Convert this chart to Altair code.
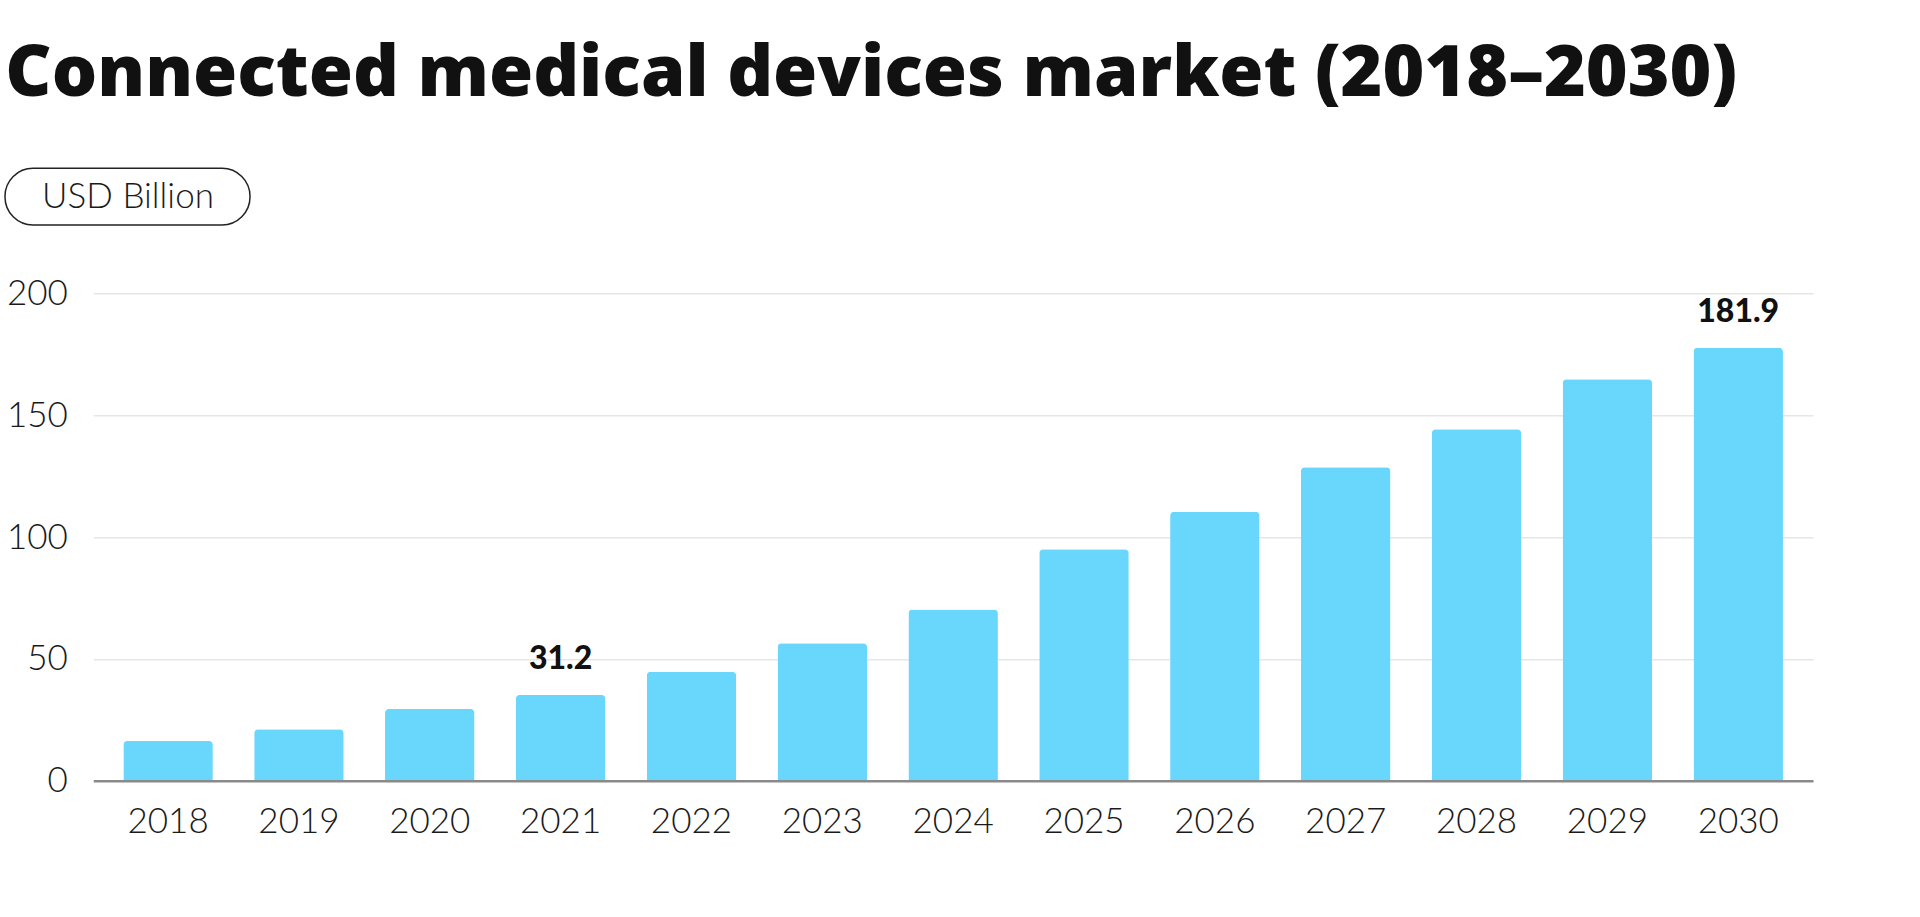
import altair as alt
import pandas as pd

years = ["2018", "2019", "2020", "2021", "2022", "2023", "2024",
         "2025", "2026", "2027", "2028", "2029", "2030"]
values = [16.3, 21.1, 29.4, 35.2, 44.7, 56.4, 70.3, 95.0, 110.4, 128.6, 144.2, 164.7, 177.7]
labels = ["", "", "", "31.2", "", "", "", "", "", "", "", "", "181.9"]
y_ticks = [0, 50, 100, 150, 200]

title_text = "Connected medical devices market (2018\u20132030)"
unit_text = "USD Billion"

df = pd.DataFrame({"year": years, "value": values, "label": labels})

W = 1719.7
H = 487.4
LEFT = 93.3
TOP = 293.3

FONT = "Lato"
BAR_COLOR = "#69D6FC"

x_enc = alt.X(
    "year:N",
    sort=years,
    scale=alt.Scale(paddingInner=0.316, paddingOuter=0.2295),
    axis=alt.Axis(
        title=None,
        labelAngle=0,
        labelFont=FONT,
        labelFontWeight=300,
        labelFontSize=35,
        labelColor="#1a1a1a",
        labelPadding=24,
        ticks=False,
        domainColor="#8a8a8a",
        domainWidth=2.5,
        grid=False,
        zindex=1,
    ),
)

y_enc = alt.Y(
    "value:Q",
    scale=alt.Scale(domain=[0, 200], nice=False),
    axis=alt.Axis(
        values=y_ticks,
        title=unit_text,
        titleAngle=0,
        titleX=34.2,
        titleY=-96.6,
        titleAlign="center",
        titleBaseline="middle",
        titleFont=FONT,
        titleFontWeight=300,
        titleFontSize=35,
        titleColor="#1a1a1a",
        labelFont=FONT,
        labelFontWeight=300,
        labelFontSize=35,
        labelColor="#1a1a1a",
        labelPadding=26,
        ticks=False,
        domain=False,
        gridColor="#e6e6e6",
        gridWidth=1.5,
    ),
)

base = alt.Chart(df)

bars = base.mark_bar(
    color=BAR_COLOR,
    cornerRadiusTopLeft=4,
    cornerRadiusTopRight=4,
).encode(x=x_enc, y=y_enc)

text = base.transform_filter(alt.datum.label != "").mark_text(
    font=FONT,
    fontWeight=900,
    fontSize=32,
    color="#111111",
    baseline="alphabetic",
    align="center",
    dy=-25.5,
).encode(
    x=alt.X("year:N", sort=years),
    y=alt.Y("value:Q"),
    text="label:N",
)

pill = alt.Chart(pd.DataFrame({"unit": [unit_text]})).mark_rect(
    fill="white",
    fillOpacity=0,
    stroke="#222222",
    strokeWidth=1.5,
    cornerRadius=28,
).encode(
    x=alt.value(-88.3),
    x2=alt.value(156.7),
    y=alt.value(-125.0),
    y2=alt.value(-68.3),
)

chart = alt.layer(bars, text, pill).properties(
    width=W,
    height=H,
    title=alt.Title(
        title_text,
        anchor="start",
        frame="group",
        dx=-88,
        dy=-56,
        font="Open Sans",
        fontWeight=800,
        fontSize=71.5,
        color="#111111",
        offset=0,
    ),
    padding={"left": LEFT, "top": TOP, "right": 1920 - LEFT - W, "bottom": 917 - TOP - H},
    autosize=alt.AutoSizeParams(type="none"),
    background="white",
).configure_view(stroke=None)

chart.save("out.html", embed_options={"renderer": "svg", "actions": False})
